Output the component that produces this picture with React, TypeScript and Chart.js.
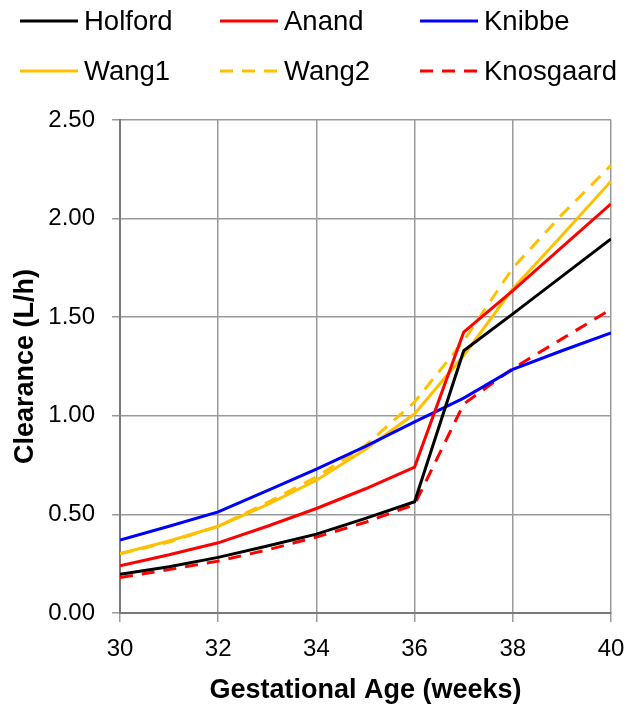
import React, { useEffect, useRef } from "react";
import { Chart, registerables } from "chart.js";

Chart.register(...registerables);

const weeks = [30, 31, 32, 33, 34, 35, 36, 37, 38, 39, 40];
const holford = [0.196, 0.235, 0.282, 0.34, 0.4, 0.48, 0.564, 1.33, 1.517, 1.707, 1.897];
const anand = [0.24, 0.295, 0.356, 0.44, 0.53, 0.63, 0.74, 1.424, 1.635, 1.855, 2.075];
const knibbe = [0.37, 0.44, 0.513, 0.62, 0.73, 0.845, 0.969, 1.09, 1.235, 1.33, 1.42];
const wang1 = [0.302, 0.365, 0.44, 0.55, 0.673, 0.83, 1.01, 1.306, 1.644, 1.914, 2.19];
const wang2 = [0.3, 0.36, 0.44, 0.56, 0.69, 0.85, 1.07, 1.38, 1.75, 2.02, 2.27];
const knosgaard = [0.18, 0.22, 0.263, 0.32, 0.385, 0.46, 0.55, 1.06, 1.24, 1.39, 1.54];

const seriesNames = ["Holford", "Anand", "Knibbe", "Wang1", "Wang2", "Knosgaard"];
const seriesColors = ["#000000", "#ff0000", "#0000ff", "#ffc000", "#ffc000", "#ff0000"];
const seriesDashed = [false, false, false, false, true, true];
const seriesValues = [holford, anand, knibbe, wang1, wang2, knosgaard];

const xTitle = "Gestational Age (weeks)";
const yTitle = "Clearance (L/h)";

const FONT = "'Liberation Sans', Arial, sans-serif";
const DASH = [13, 9];

const legendPlugin = {
  id: "gridLegend",
  afterDraw(chart: any) {
    const ctx = chart.ctx;
    const colX = [20, 220, 420];
    const rowY = [21, 71];
    ctx.save();
    chart.data.datasets.forEach((ds: any, i: number) => {
      const col = i % 3;
      const row = Math.floor(i / 3);
      const x0 = colX[col];
      const y = rowY[row];
      ctx.beginPath();
      ctx.strokeStyle = ds.borderColor;
      ctx.lineWidth = 3;
      ctx.setLineDash(ds.borderDash || []);
      ctx.moveTo(x0, y);
      ctx.lineTo(x0 + 58, y);
      ctx.stroke();
      ctx.setLineDash([]);
      ctx.fillStyle = "#000";
      ctx.font = `27.5px ${FONT}`;
      ctx.textBaseline = "middle";
      ctx.textAlign = "left";
      ctx.fillText(ds.label, x0 + 64, y + 1);
    });
    ctx.restore();
  },
};

export default function App() {
  const ref = useRef<HTMLCanvasElement | null>(null);
  useEffect(() => {
    document.body.style.margin = "0";
    const canvas = ref.current;
    if (!canvas) return;
    const datasets = seriesNames.map((name, i) => ({
      label: name,
      data: weeks.map((w, j) => ({ x: w, y: seriesValues[i][j] })),
      borderColor: seriesColors[i],
      backgroundColor: seriesColors[i],
      borderWidth: 3,
      borderDash: seriesDashed[i] ? DASH : [],
      pointRadius: 0,
      tension: 0,
      fill: false,
    }));
    const gridColor = "#9a9a9a";
    const chart = new Chart(canvas, {
      type: "line",
      data: { datasets: datasets as any },
      plugins: [legendPlugin],
      options: {
        responsive: false,
        animation: false,
        layout: { padding: { top: 120, right: 14, left: 0, bottom: 0 } },
        plugins: { legend: { display: false }, tooltip: { enabled: false } },
        scales: {
          x: {
            type: "linear",
            min: 30,
            max: 40,
            afterFit: (s: any) => {
              s.height = 97;
              s.paddingLeft = 0;
              s.paddingRight = 0;
            },
            ticks: {
              stepSize: 2,
              color: "#000",
              font: { family: FONT, size: 24 },
              padding: 13,
              maxRotation: 0,
            },
            grid: { color: gridColor, lineWidth: 1.5, tickLength: 9 },
            border: { color: "#7a7a7a", width: 2 },
            title: {
              display: true,
              text: xTitle,
              color: "#000",
              font: { family: FONT, size: 27, weight: "bold" },
              padding: { top: 0, bottom: 3 },
            },
          },
          y: {
            min: 0,
            max: 2.5,
            afterFit: (s: any) => {
              s.width = 120;
              s.paddingTop = 0;
              s.paddingBottom = 0;
            },
            ticks: {
              stepSize: 0.5,
              color: "#000",
              font: { family: FONT, size: 24 },
              padding: 17,
              callback: (v: any) => Number(v).toFixed(2),
            },
            grid: { color: gridColor, lineWidth: 1.5, tickLength: 8 },
            border: { color: "#7a7a7a", width: 2 },
            title: {
              display: true,
              text: yTitle,
              color: "#000",
              font: { family: FONT, size: 27, weight: "bold" },
              padding: { top: 9, bottom: 0 },
            },
          },
        },
      },
    });
    return () => chart.destroy();
  }, []);
  return <canvas ref={ref} width={625} height={710} style={{ display: "block" }} />;
}
